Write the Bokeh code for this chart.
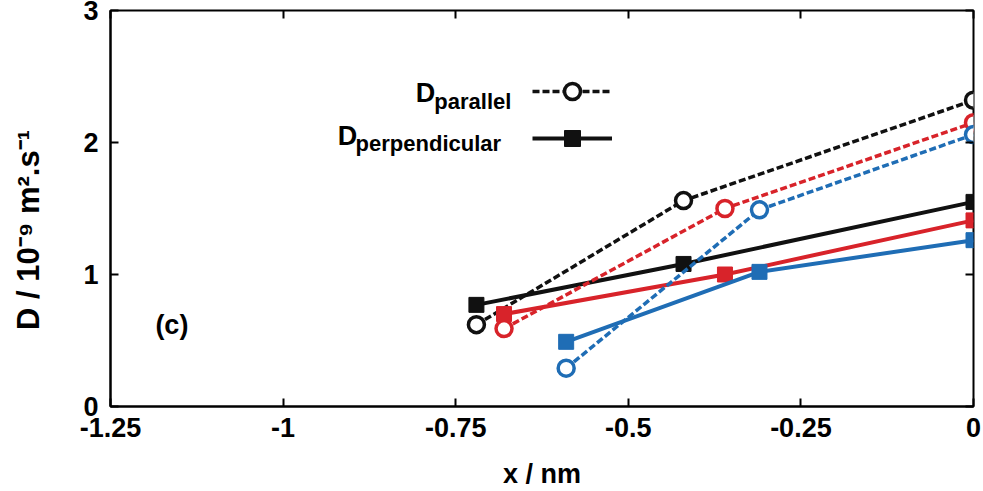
from bokeh.plotting import figure
from bokeh.models import Range1d, FixedTicker, LinearAxis, Label, Legend, LegendItem
from bokeh.embed import file_html
from bokeh.resources import INLINE

# ---- data ----
x_ticks = [-1.25, -1.0, -0.75, -0.5, -0.25, 0.0]
x_tick_labels = {-1.25: "-1.25", -1.0: "-1", -0.75: "-0.75", -0.5: "-0.5", -0.25: "-0.25", 0.0: "0"}
y_ticks = [0, 1, 2, 3]

black_par_x = [-0.72, -0.42, 0.0]
black_par_y = [0.62, 1.56, 2.32]
black_perp_x = [-0.72, -0.42, 0.0]
black_perp_y = [0.77, 1.08, 1.55]

red_par_x = [-0.68, -0.36, 0.0]
red_par_y = [0.59, 1.50, 2.15]
red_perp_x = [-0.68, -0.36, 0.0]
red_perp_y = [0.70, 1.00, 1.41]

blue_par_x = [-0.59, -0.31, 0.0]
blue_par_y = [0.29, 1.49, 2.06]
blue_perp_x = [-0.59, -0.31, 0.0]
blue_perp_y = [0.49, 1.02, 1.26]

BLACK = "#111111"
RED = "#d8232a"
BLUE = "#1f6db5"
FONT = "Liberation Sans"

p = figure(width=983, height=491, output_backend="svg", toolbar_location=None,
           x_range=Range1d(-1.25, 0.0), y_range=Range1d(0, 3),
           min_border_left=110, min_border_right=10, min_border_top=10, min_border_bottom=83)
p.grid.visible = False
p.outline_line_color = "black"
p.outline_line_width = 2
p.background_fill_color = "white"
p.border_fill_color = "white"

for ax in (p.xaxis[0], p.yaxis[0]):
    ax.axis_line_width = 2
    ax.major_tick_in = 8
    ax.major_tick_out = 0
    ax.major_tick_line_width = 2
    ax.minor_tick_line_color = None
    ax.major_label_text_font = FONT
    ax.major_label_text_font_style = "bold"
    ax.major_label_text_font_size = "27px"
    ax.major_label_text_color = "black"
    ax.axis_label_text_font = FONT
    ax.axis_label_text_font_style = "bold"
    ax.axis_label_text_color = "black"

p.xaxis.ticker = FixedTicker(ticks=x_ticks)
p.xaxis.major_label_overrides = x_tick_labels
p.xaxis.major_label_standoff = 11
p.xaxis.axis_label = "x / nm"
p.xaxis.axis_label_text_font_size = "27px"
p.xaxis.axis_label_standoff = 19

p.yaxis.ticker = FixedTicker(ticks=y_ticks)
p.yaxis.major_label_standoff = 12
p.yaxis.axis_label = "D / 10\u207b\u2079 m\u00b2.s\u207b\u00b9" + "\u00a0" * 5
p.yaxis.axis_label_text_font_size = "31px"
p.yaxis.axis_label_standoff = 34

right_ax = LinearAxis(ticker=FixedTicker(ticks=y_ticks),
                      major_label_overrides={t: "" for t in y_ticks},
                      major_tick_in=8, major_tick_out=0, major_tick_line_width=2,
                      minor_tick_line_color=None, axis_line_color=None, major_label_standoff=0)
top_ax = LinearAxis(ticker=FixedTicker(ticks=x_ticks),
                    major_label_overrides={t: "" for t in x_ticks},
                    major_tick_in=8, major_tick_out=0, major_tick_line_width=2,
                    minor_tick_line_color=None, axis_line_color=None, major_label_standoff=0)
p.add_layout(right_ax, "right")
p.add_layout(top_ax, "above")

renderers = {}
for name, color, px, py, qx, qy in [
    ("black", BLACK, black_par_x, black_par_y, black_perp_x, black_perp_y),
    ("red", RED, red_par_x, red_par_y, red_perp_x, red_perp_y),
    ("blue", BLUE, blue_par_x, blue_par_y, blue_perp_x, blue_perp_y),
]:
    l1 = p.line(px, py, line_color=color, line_width=3.5, line_dash="7 3")
    m1 = p.scatter(px, py, marker="circle", size=16, fill_color="white",
                   line_color=color, line_width=3.5)
    l2 = p.line(qx, qy, line_color=color, line_width=4)
    m2 = p.scatter(qx, qy, marker="square", size=15, fill_color=color,
                   line_color=color, line_width=1)
    renderers[name] = (l1, m1, l2, m2)

bl = renderers["black"]
legend = Legend(items=[LegendItem(label=" ", renderers=[bl[0], bl[1]]),
                       LegendItem(label=" ", renderers=[bl[2], bl[3]])],
                location=(422, 248), orientation="vertical",
                glyph_width=80, glyph_height=40, label_height=40, label_width=0,
                label_standoff=0, spacing=7, padding=0, margin=0,
                border_line_color=None, background_fill_alpha=0,
                label_text_font_size="1px")
p.add_layout(legend, "center")

def lab(text, x, y, size, align="left"):
    p.add_layout(Label(text=text, x=x, y=y,
                       text_font=FONT, text_font_style="bold", text_font_size=size,
                       text_color="black", text_baseline="middle", text_align=align))

lab("D", -0.808, 2.373, "27px")
lab("parallel", -0.781, 2.313, "22px")
lab("D", -0.921, 2.052, "27px")
lab("perpendicular", -0.895, 1.995, "22px")
lab("(c)", -1.185, 0.62, "27px")

open("out.html", "w").write(file_html(p, INLINE))
